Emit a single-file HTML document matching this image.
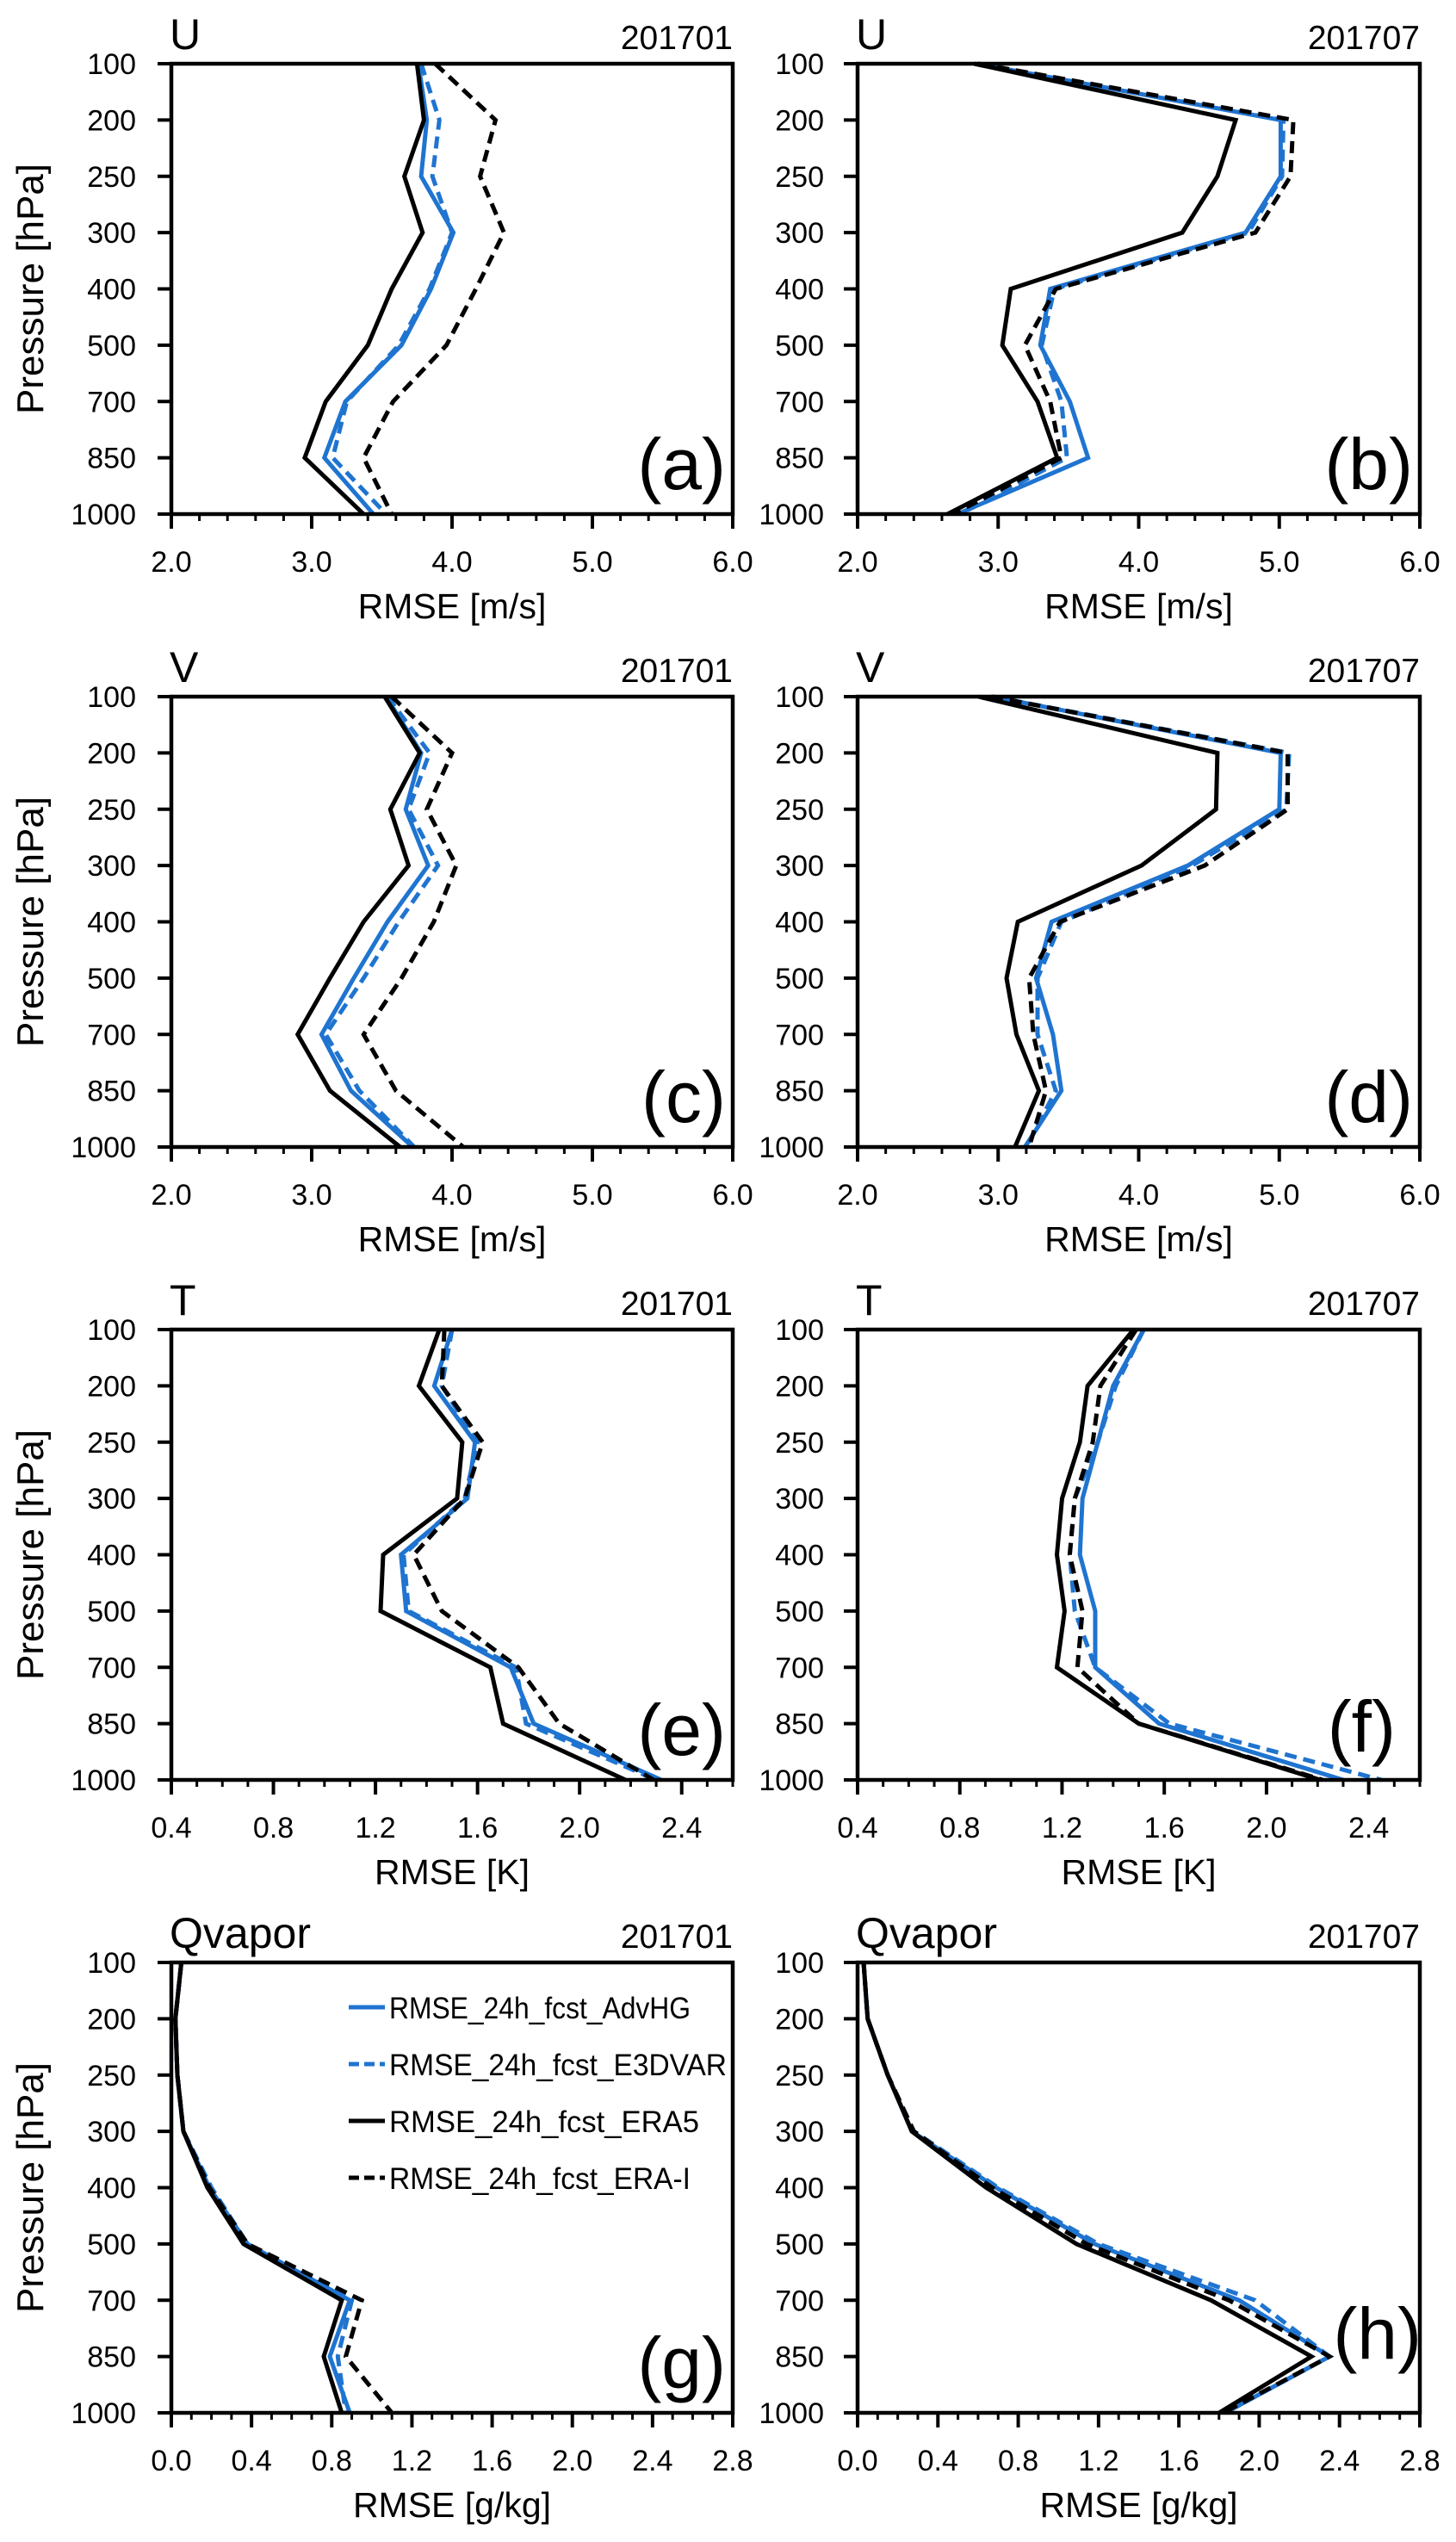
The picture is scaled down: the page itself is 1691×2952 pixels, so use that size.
<!DOCTYPE html>
<html><head><meta charset="utf-8"><title>RMSE profiles</title>
<style>
html,body{margin:0;padding:0;background:#fff;}
svg{display:block;font-family:"Liberation Sans",Arial,sans-serif;}
</style></head>
<body>
<svg id="fig" width="1691" height="2952" viewBox="0 0 1691 2952" xmlns="http://www.w3.org/2000/svg"></svg>
<script>
// ---- shared data ----
const levels = ["100","200","250","300","400","500","700","850","1000"];
const seriesNames = ["AdvHG","E3DVAR","ERA5","ERA-I"];
const legendLabels = ["RMSE_24h_fcst_AdvHG","RMSE_24h_fcst_E3DVAR","RMSE_24h_fcst_ERA5","RMSE_24h_fcst_ERA-I"];

// ---- panel (a) U 201701 ----
const aAdvHG  = [3.76,3.82,3.78,4.01,3.85,3.64,3.24,3.09,3.44];
const aE3DVAR = [3.78,3.91,3.86,4.00,3.84,3.62,3.25,3.15,3.53];
const aERA5   = [3.75,3.80,3.66,3.79,3.57,3.40,3.10,2.95,3.37];
const aERAI   = [3.88,4.31,4.20,4.37,4.17,3.96,3.58,3.37,3.57];
// ---- panel (b) U 201707 ----
const bAdvHG  = [2.85,5.01,5.01,4.76,3.37,3.30,3.51,3.64,2.71];
const bE3DVAR = [2.85,5.03,5.02,4.78,3.40,3.31,3.45,3.49,2.73];
const bERA5   = [2.83,4.69,4.56,4.31,3.09,3.03,3.28,3.42,2.64];
const bERAI   = [2.86,5.10,5.08,4.83,3.41,3.19,3.37,3.45,2.68];
// ---- panel (c) V 201701 ----
const cAdvHG  = [3.53,3.78,3.67,3.83,3.54,3.30,3.07,3.28,3.72];
const cE3DVAR = [3.54,3.84,3.69,3.90,3.62,3.37,3.10,3.34,3.73];
const cERA5   = [3.52,3.77,3.56,3.69,3.37,3.13,2.90,3.13,3.63];
const cERAI   = [3.57,4.00,3.82,4.03,3.87,3.64,3.37,3.60,4.08];
// ---- panel (d) V 201707 ----
const dAdvHG  = [2.96,5.01,5.00,4.35,3.38,3.27,3.39,3.45,3.19];
const dE3DVAR = [2.96,5.07,5.05,4.38,3.45,3.28,3.28,3.41,3.20];
const dERA5   = [2.86,4.56,4.55,4.02,3.14,3.06,3.13,3.29,3.12];
const dERAI   = [2.95,5.06,5.06,4.47,3.44,3.22,3.25,3.34,3.22];
// ---- panel (e) T 201701 ----
const eAdvHG  = [1.50,1.43,1.59,1.56,1.30,1.32,1.73,1.82,2.32];
const eE3DVAR = [1.50,1.46,1.60,1.55,1.31,1.33,1.75,1.79,2.30];
const eERA5   = [1.45,1.37,1.54,1.52,1.23,1.22,1.65,1.70,2.18];
const eERAI   = [1.47,1.46,1.62,1.55,1.35,1.46,1.76,1.92,2.29];
// ---- panel (f) T 201707 ----
const fAdvHG  = [1.52,1.40,1.34,1.28,1.27,1.33,1.33,1.58,2.30];
const fE3DVAR = [1.52,1.41,1.34,1.25,1.23,1.25,1.33,1.62,2.45];
const fERA5   = [1.48,1.30,1.27,1.20,1.18,1.21,1.18,1.50,2.21];
const fERAI   = [1.49,1.35,1.32,1.25,1.23,1.28,1.26,1.50,2.22];
// ---- panel (g) Qvapor 201701 ----
const gAdvHG  = [0.05,0.02,0.03,0.06,0.19,0.38,0.89,0.79,0.89];
const gE3DVAR = [0.05,0.02,0.03,0.06,0.20,0.38,0.90,0.83,0.87];
const gERA5   = [0.05,0.02,0.03,0.06,0.18,0.36,0.85,0.76,0.85];
const gERAI   = [0.05,0.02,0.03,0.06,0.19,0.38,0.95,0.87,1.10];
// ---- panel (h) Qvapor 201707 ----
const hAdvHG  = [0.03,0.05,0.15,0.27,0.69,1.18,1.90,2.35,1.83];
const hE3DVAR = [0.03,0.05,0.15,0.28,0.70,1.20,1.98,2.35,1.83];
const hERA5   = [0.03,0.05,0.15,0.27,0.64,1.09,1.76,2.26,1.80];
const hERAI   = [0.03,0.05,0.15,0.28,0.67,1.14,1.85,2.35,1.82];

// tick labels
const uvTicks = ["2.0","3.0","4.0","5.0","6.0"];
const tTicks  = ["0.4","0.8","1.2","1.6","2.0","2.4"];
const qTicks  = ["0.0","0.4","0.8","1.2","1.6","2.0","2.4","2.8"];

const NS = "http://www.w3.org/2000/svg";
const svg = document.getElementById("fig");
const BLUE = "#1f74d0";
function mk(tag, attrs, parent){
  const e = document.createElementNS(NS, tag);
  for (const k in attrs) e.setAttribute(k, attrs[k]);
  (parent||svg).appendChild(e);
  return e;
}

const colL = {x0:199, x1:851, ylab:158};
const colR = {x0:996, x1:1649, ylab:957};
const rowTops = [74, 809, 1544, 2279];
const H = 523;

const panels = [
 {id:"a", var:"U", date:"201701", col:colL, row:0, xmin:2, xmax:6, ticks:uvTicks, minor:0.2, title:"RMSE [m/s]", data:[aAdvHG,aE3DVAR,aERA5,aERAI]},
 {id:"b", var:"U", date:"201707", col:colR, row:0, xmin:2, xmax:6, ticks:uvTicks, minor:0.2, title:"RMSE [m/s]", data:[bAdvHG,bE3DVAR,bERA5,bERAI]},
 {id:"c", var:"V", date:"201701", col:colL, row:1, xmin:2, xmax:6, ticks:uvTicks, minor:0.2, title:"RMSE [m/s]", data:[cAdvHG,cE3DVAR,cERA5,cERAI]},
 {id:"d", var:"V", date:"201707", col:colR, row:1, xmin:2, xmax:6, ticks:uvTicks, minor:0.2, title:"RMSE [m/s]", data:[dAdvHG,dE3DVAR,dERA5,dERAI]},
 {id:"e", var:"T", date:"201701", col:colL, row:2, xmin:0.4, xmax:2.6, ticks:tTicks, minor:0.1, title:"RMSE [K]", data:[eAdvHG,eE3DVAR,eERA5,eERAI]},
 {id:"f", var:"T", date:"201707", col:colR, row:2, xmin:0.4, xmax:2.6, ticks:tTicks, minor:0.1, title:"RMSE [K]", data:[fAdvHG,fE3DVAR,fERA5,fERAI]},
 {id:"g", var:"Qvapor", date:"201701", col:colL, row:3, xmin:0, xmax:2.8, ticks:qTicks, minor:0.1, title:"RMSE [g/kg]", data:[gAdvHG,gE3DVAR,gERA5,gERAI], legend:true},
 {id:"h", var:"Qvapor", date:"201707", col:colR, row:3, xmin:0, xmax:2.8, ticks:qTicks, minor:0.1, title:"RMSE [g/kg]", data:[hAdvHG,hE3DVAR,hERA5,hERAI]}
];
const styles = [
 {stroke:BLUE, dash:null},
 {stroke:BLUE, dash:"14 8"},
 {stroke:"#000", dash:null},
 {stroke:"#000", dash:"14 8"}
];

panels.forEach(p=>{
  const x0=p.col.x0, x1=p.col.x1, y0=rowTops[p.row], y1=y0+H;
  const g = mk("g",{});
  
  
  const xs = v => x0 + (v-p.xmin)/(p.xmax-p.xmin)*(x1-x0);
  const ys = i => y0 + i*(y1-y0)/(levels.length-1);

  p.data.forEach((arr,si)=>{
    const pts = arr.map((v,i)=>xs(v).toFixed(1)+","+ys(i).toFixed(1)).join(" ");
    const a = {points:pts, fill:"none", stroke:styles[si].stroke, "stroke-width":5, "stroke-linejoin":"miter"};
    if (styles[si].dash) a["stroke-dasharray"]=styles[si].dash;
    const pl = mk("polyline", a, g);
    
    
  });

  const fr = mk("rect",{x:x0,y:y0,width:x1-x0,height:y1-y0,fill:"none",stroke:"#000","stroke-width":4.5},g);
  
  

  levels.forEach((lv,i)=>{
    mk("line",{x1:x0-16,x2:x0,y1:ys(i),y2:ys(i),stroke:"#000","stroke-width":4},g);
    const t = mk("text",{x:p.col.ylab,y:ys(i)+12,"text-anchor":"end","font-size":34,fill:"#000"},g);
    t.textContent = lv;
    
    
  });

  const nMinor = Math.round((p.xmax-p.xmin)/p.minor);
  for (let k=0;k<=nMinor;k++){
    const v = p.xmin + k*p.minor;
    mk("line",{x1:xs(v),x2:xs(v),y1:y1,y2:y1+8,stroke:"#000","stroke-width":3},g);
  }
  p.ticks.forEach(tl=>{
    const v = parseFloat(tl);
    mk("line",{x1:xs(v),x2:xs(v),y1:y1,y2:y1+17,stroke:"#000","stroke-width":4},g);
    const t = mk("text",{x:xs(v),y:y1+67,"text-anchor":"middle","font-size":34,fill:"#000"},g);
    t.textContent = tl;
    
    
  });

  const xt = mk("text",{x:(x0+x1)/2,y:y1+121,"text-anchor":"middle","font-size":41,fill:"#000"},g);
  xt.textContent = p.title;
  
  

  if (p.col===colL){
    const cy = (y0+y1)/2;
    const yt = mk("text",{x:0,y:0,"text-anchor":"middle","font-size":44,fill:"#000",transform:"translate(50,"+cy+") rotate(-90)"},g);
    yt.textContent = "Pressure [hPa]";
    
    
  }

  const vt = mk("text",{x:x0-2,y:y0-17,"font-size":50,fill:"#000"},g);
  vt.textContent = p.var;
  
  
  const dt = mk("text",{x:x1,y:y0-17,"text-anchor":"end","font-size":39,fill:"#000"},g);
  dt.textContent = p.date;
  
  

  let lx = x1-8, ly = y0+494;
  if (p.id==="f"){ lx = x1-28; ly = y0+490; }
  if (p.id==="h"){ lx = x1+2; ly = y0+460; }
  const pl = mk("text",{x:lx,y:ly,"text-anchor":"end","font-size":84,fill:"#000"},g);
  pl.textContent = "("+p.id+")";
  
  

  if (p.legend){
    const lg = mk("g",{},g);
    
    
    legendLabels.forEach((lab,si)=>{
      const yy = y0 + 52 + si*66;
      const a = {x1:405,x2:447,y1:yy,y2:yy,stroke:styles[si].stroke,"stroke-width":5};
      if (styles[si].dash) a["stroke-dasharray"]="12 6";
      mk("line",a,lg);
      const t = mk("text",{x:452,y:yy+13,"font-size":35,fill:"#000",textLength:lab.length>19?392:(lab.length>18?350:360),lengthAdjust:"spacingAndGlyphs"},lg);
      t.textContent = lab;
      
      
    });
  }
});
</script>
</body></html>
